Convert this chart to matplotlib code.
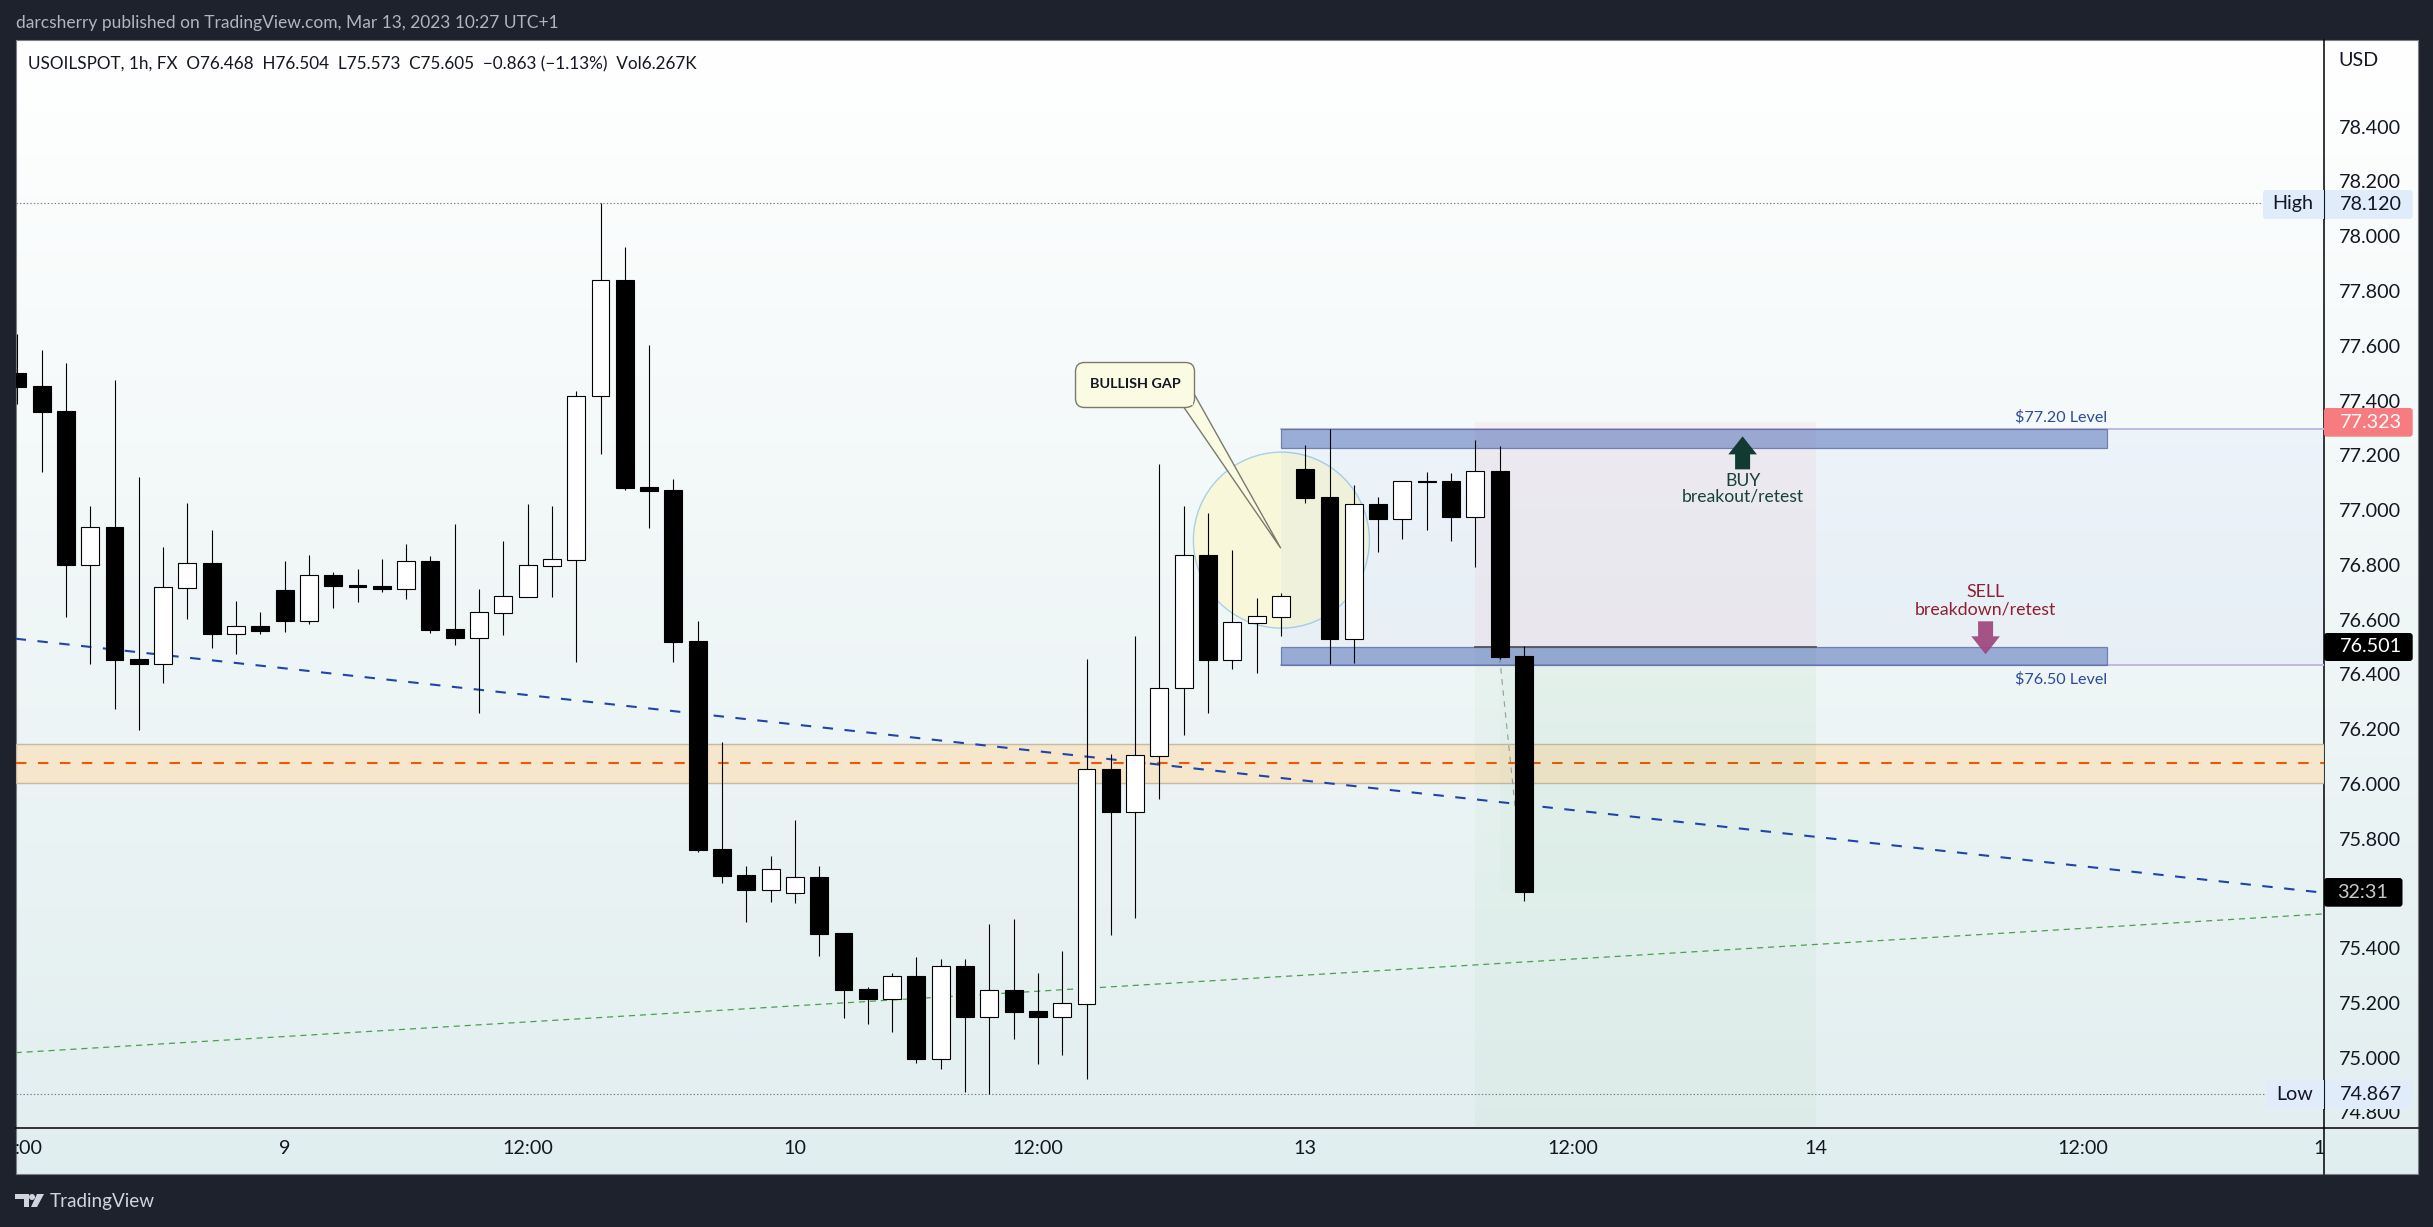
import numpy as np
import matplotlib
matplotlib.use('Agg')
import matplotlib.pyplot as plt
from matplotlib.patches import Rectangle, Ellipse, Polygon, FancyBboxPatch

W, H = 2433, 1227
FONT = 'Lato'
plt.rcParams['font.family'] = [FONT, 'DejaVu Sans']
plt.rcParams['lines.scale_dashes'] = False

# candles, first bar on the left edge of the chart (USOILSPOT 1h)
opens = [77.500, 77.453, 77.362, 76.800, 76.938, 76.456, 76.439, 76.716, 76.806, 76.548,
         76.576, 76.708, 76.596, 76.763, 76.726, 76.722, 76.713, 76.814, 76.565, 76.534,
         76.625, 76.684, 76.797, 76.819, 77.415, 77.840, 77.084, 77.073, 76.521, 75.762,
         75.667, 75.613, 75.602, 75.660, 75.455, 75.251, 75.215, 75.298, 74.996, 75.335,
         75.149, 75.247, 75.170, 75.149, 75.197, 76.054, 75.898, 76.103, 76.349, 76.836,
         76.454, 76.589, 76.611, 77.150, 77.048, 76.530, 77.022, 76.968, 77.106, 77.106,
         76.976, 77.143, 76.468]
highs = [77.643, 77.584, 77.537, 77.015, 77.475, 77.121, 76.865, 77.026, 76.927, 76.668,
         76.628, 76.814, 76.836, 76.774, 76.785, 76.821, 76.876, 76.832, 76.949, 76.712,
         76.887, 77.022, 77.015, 77.435, 78.120, 77.960, 77.602, 77.115, 76.594, 76.153,
         75.700, 75.736, 75.868, 75.700, 75.455, 75.258, 75.309, 75.367, 75.360, 75.360,
         75.488, 75.506, 75.309, 75.389, 76.456, 76.109, 76.540, 77.168, 77.015, 76.989,
         76.854, 76.679, 76.697, 77.238, 77.296, 77.091, 77.048, 77.105, 77.139, 77.135,
         77.256, 77.234, 76.504]
lows = [77.387, 77.139, 76.609, 76.438, 76.273, 76.197, 76.368, 76.602, 76.496, 76.474,
        76.547, 76.554, 76.584, 76.642, 76.664, 76.701, 76.675, 76.551, 76.507, 76.259,
        76.544, 76.684, 76.682, 76.445, 77.205, 77.073, 76.935, 76.446, 75.751, 75.638,
        75.495, 75.568, 75.565, 75.371, 75.145, 75.123, 75.093, 74.980, 74.958, 74.874,
        74.867, 75.068, 74.977, 75.009, 74.922, 75.448, 75.510, 75.944, 76.178, 76.260,
        76.419, 76.405, 76.540, 77.026, 76.438, 76.441, 76.847, 76.894, 76.927, 76.887,
        76.792, 76.456, 75.573]
closes = [77.449, 77.358, 76.799, 76.937, 76.452, 76.438, 76.718, 76.805, 76.547, 76.575,
          76.558, 76.595, 76.761, 76.722, 76.719, 76.712, 76.813, 76.562, 76.533, 76.626,
          76.685, 76.798, 76.820, 77.415, 77.839, 77.080, 77.069, 76.518, 75.758, 75.663,
          75.612, 75.688, 75.658, 75.451, 75.247, 75.214, 75.297, 74.995, 75.333, 75.148,
          75.246, 75.167, 75.148, 75.198, 76.053, 75.897, 76.104, 76.349, 76.835, 76.454,
          76.590, 76.612, 76.685, 77.044, 76.529, 77.021, 76.967, 77.105, 77.104, 76.975,
          77.141, 76.463, 75.605]

price_ticks = [78.4, 78.2, 78.0, 77.8, 77.6, 77.4, 77.2, 77.0, 76.8, 76.6, 76.4, 76.2,
               76.0, 75.8, 75.4, 75.2, 75.0, 74.8]
# first and last labels are cut by the pane in the original, only these parts show
time_ticks = [0.48, 11, 21, 32, 42, 53, 64, 74, 85, 94.72]
time_labels = [':00', '9', '12:00', '10', '12:00', '13', '12:00', '14', '12:00', '1']

# levels and drawings
session_high, session_low = 78.120, 74.867
buy_zone = (77.225, 77.295)
sell_zone = (76.434, 76.501)
orange_zone = (76.002, 76.144)
orange_level = 76.077
blue_trend = (76.530, 75.602)
green_trend = (75.018, 75.525)
zone_start, zone_end = 52, 86
pos_start, pos_end = 60, 74
pos_stop, pos_entry, pos_target = 77.323, 76.501, 75.605

# pane geometry in pixels, only for placing the axes
LEFT, RIGHT, TOP, BOTTOM = 15.6, 2324, 40, 1128
PANEL_R, PANEL_B = 2417.7, 1174
BAR_PX = 24.3
PRICE_PX = 273.8
BAR0_PX = 17.3

fig = plt.figure(figsize=(W / 100, H / 100), dpi=100, facecolor='#1e222d')

# background with the gradient and the frame, in pixel units
bg = fig.add_axes([0, 0, 1, 1], zorder=0)
bg.set_xlim(0, W)
bg.set_ylim(H, 0)
bg.axis('off')
grad = np.linspace(0, 1, 256).reshape(-1, 1, 1)
top_col = np.array([1.0, 1.0, 1.0]).reshape(1, 1, 3)
bot_col = np.array([0xe1, 0xee, 0xef]).reshape(1, 1, 3) / 255
bg.imshow(top_col + (bot_col - top_col) * grad, extent=[LEFT, PANEL_R, PANEL_B, TOP], aspect='auto')
bg.set_xlim(0, W)
bg.set_ylim(H, 0)
bg.add_patch(Rectangle((LEFT, TOP), PANEL_R - LEFT, PANEL_B - TOP, fill=False, ec='#7b7e86', lw=0.8))
bg.plot([RIGHT, RIGHT], [TOP, PANEL_B], color='black', lw=1.1)
bg.plot([LEFT, PANEL_R], [BOTTOM, BOTTOM], color='black', lw=1.1)

ax = fig.add_axes([LEFT / W, 1 - BOTTOM / H, (RIGHT - LEFT) / W, (BOTTOM - TOP) / H], zorder=1)
ax.patch.set_alpha(0)
for s in ax.spines.values():
    s.set_visible(False)
ax.set_xlim((LEFT - BAR0_PX) / BAR_PX, (RIGHT - BAR0_PX) / BAR_PX)
ax.set_ylim(78.4 - (BOTTOM - 126.7) / PRICE_PX, 78.4 + (126.7 - TOP) / PRICE_PX)

ax.yaxis.tick_right()
ax.set_yticks(price_ticks)
ax.set_yticklabels(['%.3f' % p for p in price_ticks], fontsize=14.2, color='#131722')
ax.tick_params(axis='y', length=0, pad=11)
ax.set_xticks(time_ticks)
ax.set_xticklabels(time_labels, fontsize=14.2, color='#131722')
ax.tick_params(axis='x', length=0, pad=9)

xmin, xmax = ax.get_xlim()

# zones and lines behind the candles
ax.axhspan(orange_zone[0], orange_zone[1], facecolor='#f5e6cc', edgecolor='#c6baa5', lw=1, zorder=1)
ax.plot([xmin, xmax], [orange_level] * 2, color='#e8590c', lw=1.5, ls=(0, (7.5, 8.3)), zorder=2)

ax.add_patch(Ellipse((52.02, 76.890), 176 / BAR_PX, 176 / PRICE_PX, facecolor='#f8f7da', edgecolor='#a8d0ea', lw=1, zorder=1.5))
ax.add_patch(Rectangle((zone_start, sell_zone[0]), xmax - zone_start, buy_zone[1] - sell_zone[0],
                       facecolor='#2962ff', alpha=0.035, lw=0, zorder=2))
for p in (buy_zone[1], sell_zone[0]):
    ax.plot([zone_start, xmax], [p, p], color='#c3b8e0', lw=1.4, zorder=2.2)

# position tool
ax.add_patch(Rectangle((pos_start, pos_entry), pos_end - pos_start, pos_stop - pos_entry,
                       facecolor='#f77c80', alpha=0.07, lw=0, zorder=2.5))
ax.add_patch(Rectangle((pos_start, ax.get_ylim()[0]), pos_end - pos_start, pos_entry - ax.get_ylim()[0],
                       facecolor='#4caf50', alpha=0.04, lw=0, zorder=2.5))
ax.add_patch(Rectangle((pos_start + 1, pos_target), pos_end - pos_start - 1, pos_entry - pos_target,
                       facecolor='#4caf50', alpha=0.025, lw=0, zorder=2.5))
ax.plot([pos_start, pos_end], [pos_entry, pos_entry], color='#555555', lw=1.3, zorder=3.5)
ax.plot([pos_start + 1, pos_start + 2], [76.463, pos_target], color='#8f9ca3', lw=0.8, ls=(0, (4, 4)), zorder=3)

for z in (buy_zone, sell_zone):
    ax.add_patch(Rectangle((zone_start, z[0]), zone_end - zone_start, z[1] - z[0],
                           facecolor=(0.22, 0.35, 0.68, 0.45), edgecolor=(0.3, 0.38, 0.6, 0.7), lw=0.9, zorder=3))

ax.plot([xmin, xmax], blue_trend, color='#1e45a8', lw=1.5, ls=(0, (7.5, 8.3)), zorder=3.2)
ax.plot([xmin, xmax], green_trend, color='#4c9f50', lw=0.9, ls=(0, (4.4, 3.5)), zorder=3.2)

ax.plot([xmin, (2263 - BAR0_PX) / BAR_PX], [session_high] * 2, color='#787b86', lw=0.8, ls=(0, (1, 1.5)), zorder=3)
ax.plot([xmin, (2266 - BAR0_PX) / BAR_PX], [session_low] * 2, color='#787b86', lw=0.8, ls=(0, (1, 1.5)), zorder=3)

# candles
bars = np.arange(len(closes))
o = np.array(opens)
c = np.array(closes)
ax.vlines(bars, lows, highs, color='black', lw=0.8, zorder=5)
up = c >= o
ax.bar(bars[up], (c - o)[up], bottom=o[up], width=0.74, facecolor='white', edgecolor='black', lw=0.8, zorder=6)
ax.bar(bars[~up], (o - c)[~up], bottom=c[~up], width=0.74, facecolor='black', edgecolor='black', lw=0.8, zorder=6)

# arrows, anchored on bar and price with sizes in pixels
def arrow(bar, price, direction, color, alpha):
    dx = 1 / BAR_PX
    dy = direction / PRICE_PX
    pts = [(0, 0), (14.3, -18), (7.5, -18), (7.5, -33), (-7.5, -33), (-7.5, -18), (-14.3, -18)]
    ax.add_patch(Polygon([(bar + a * dx, price + b * dy) for a, b in pts], closed=True,
                         facecolor=color, alpha=alpha, lw=0, zorder=7))

arrow(71.0, 77.269, 1, '#123a33', 1)
arrow(81.0, 76.473, -1, '#a04a80', 0.95)

ax.text(71.0, 77.107, 'BUY', color='#18413a', fontsize=12.6, ha='center', va='center', zorder=8)
ax.text(71.0, 77.048, 'breakout/retest', color='#18413a', fontsize=12.6, ha='center', va='center', zorder=8)
ax.text(81.0, 76.700, 'SELL', color='#8e1f33', fontsize=12.8, ha='center', va='center', zorder=8)
ax.text(81.0, 76.635, 'breakdown/retest', color='#8e1f33', fontsize=12.8, ha='center', va='center', zorder=8)
ax.text(zone_end, 77.340, '$77.20 Level', color='#2c4a9e', fontsize=11.6, ha='right', va='center', zorder=8)
ax.text(zone_end, 76.382, '$76.50 Level', color='#2c4a9e', fontsize=11.6, ha='right', va='center', zorder=8)

# callout, in a pixel overlay
top = fig.add_axes([0, 0, 1, 1], zorder=2)
top.set_xlim(0, W)
top.set_ylim(H, 0)
top.axis('off')
top.patch.set_alpha(0)
top.add_patch(Polygon([(1183, 406), (1280.8, 548.3), (1194.7, 395)], closed=True, facecolor='#fbfae3', edgecolor='#7a7a6e', lw=1, zorder=3))
top.add_patch(FancyBboxPatch((1083, 370), 104, 30, boxstyle='round,pad=7.5,rounding_size=9', facecolor='#fbfae3', edgecolor='#7a7a6e', lw=1, zorder=4))
top.add_patch(Polygon([(1184, 405), (1193, 405), (1193.5, 396)], closed=True, facecolor='#fbfae3', lw=0, zorder=5))
top.text(1135, 383.5, 'BULLISH GAP', color='#131722', fontsize=10.4, fontweight='bold', ha='center', va='center', zorder=6)

# price labels on the right scale
def label_box(y0, y1, x0, x1, color):
    top.add_patch(FancyBboxPatch((x0, y0), x1 - x0, y1 - y0, boxstyle='round,pad=0,rounding_size=3', facecolor=color, lw=0, zorder=2))

label_box(190, 219, 2263, 2412.7, '#e1ecfb')
top.plot([2323.5, 2323.5], [190, 219], color='#131722', lw=0.8, zorder=3)
top.text(2272, 203, 'High', color='#131722', fontsize=14.2, va='center', zorder=4)
top.text(2340, 204.5, '78.120', color='#131722', fontsize=14.2, va='center', zorder=4)

label_box(1080, 1109, 2266, 2412.7, '#e1ecfb')
top.plot([2323.5, 2323.5], [1080, 1109], color='#131722', lw=0.8, zorder=3)
top.text(2276, 1094.5, 'Low', color='#131722', fontsize=14.2, va='center', zorder=4)
top.text(2340, 1095, '74.867', color='#131722', fontsize=14.2, va='center', zorder=4)

label_box(408, 436.7, 2324, 2412.7, '#f77c80')
top.text(2340, 422.5, '77.323', color='white', fontsize=14.2, va='center', zorder=4)

label_box(633, 661, 2324, 2412.7, 'black')
top.text(2340, 647, '76.501', color='white', fontsize=14.2, va='center', zorder=4)

label_box(878, 906.7, 2324, 2402.5, 'black')
top.text(2363, 892.5, '32:31', color='#c8c8c8', fontsize=14.2, ha='center', va='center', zorder=4)

top.text(2338, 61, 'USD', color='#131722', fontsize=14.2, va='center', zorder=4)

# header and footer
top.text(15.5, 23, 'darcsherry published on TradingView.com, Mar 13, 2023 10:27 UTC+1', color='#b2b5be', fontsize=12.55, va='center')
top.text(27.6, 64, 'USOILSPOT, 1h, FX  O76.468  H76.504  L75.573  C75.605  \u22120.863 (\u22121.13%)  Vol6.267K',
         color='#131722', fontsize=12.3, va='center')
top.fill([15, 29, 29, 24, 24, 15], [1194, 1194, 1207, 1207, 1199, 1199], color='#d1d4dc', lw=0)
top.add_patch(Ellipse((32, 1197), 6, 6, color='#d1d4dc', lw=0))
top.fill([37, 44, 37, 31], [1194, 1194, 1207, 1207], color='#d1d4dc', lw=0)
top.text(50, 1201.5, 'TradingView', color='#d1d4dc', fontsize=13.6, va='center')

fig.savefig('out.png', dpi=100, facecolor=fig.get_facecolor())
print("Done")
